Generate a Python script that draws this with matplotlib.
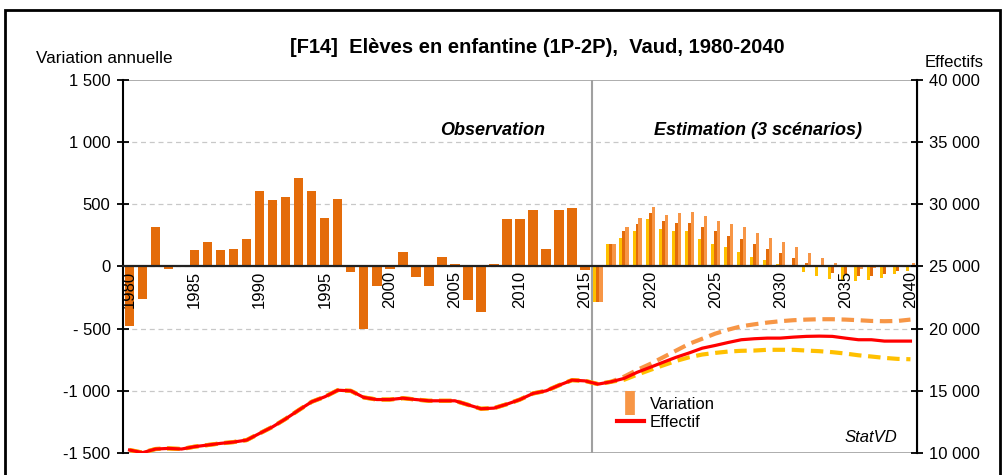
"""[F14] Elèves en enfantine (1P-2P), Vaud, 1980-2040 -- bars + lines on twin axes."""

import matplotlib
matplotlib.use("Agg")
import matplotlib.pyplot as plt
from matplotlib.lines import Line2D
from matplotlib.patches import Rectangle
import numpy as np

plt.rcParams["font.family"] = ["Liberation Sans", "DejaVu Sans"]

years = list(range(1980, 2041))

# annual variation, observed 1980-2015
var_obs = [-480, -260, 321, -21, -5, 132, 195, 132, 139, 218,
           605, 534, 558, 708, 605, 392, 542, -47, -505, -158,
           -21, 116, -87, -158, 76, 21, -268, -363, 18, 384,
           384, 455, 139, 455, 471, -32]

# annual variation, estimation 2016-2040 (low / medium / high scenario)
var_low = [-284, 179, 226, 289, 384, 305, 289, 282, 218, 179,
           155, 116, 76, 53, 21, 0, -47, -74, -97, -105,
           -113, -110, -89, -58, -34]
var_mid = [-284, 179, 282, 345, 432, 368, 353, 353, 321, 282,
           242, 218, 179, 139, 108, 68, 29, 0, -50, -58,
           -74, -74, -58, -34, -8]
var_high = [-284, 179, 318, 392, 482, 416, 432, 442, 408, 368,
            342, 316, 266, 226, 195, 155, 108, 68, 29, 2,
            -18, -10, 2, 16, 29]

# pupils count, observed 1980-2015
eff_obs = [10240, 10030, 10320, 10370, 10320, 10510, 10640, 10775, 10880, 11040,
           11580, 12110, 12750, 13450, 14120, 14520, 15050, 15000, 14470, 14300,
           14300, 14410, 14300, 14200, 14200, 14200, 13880, 13560, 13610, 13930,
           14300, 14790, 15000, 15450, 15860, 15800]

# pupils count, estimation 2016-2040
eff_mid = [15540, 15730, 16000, 16490, 16890, 17300, 17700, 18050, 18430, 18650,
           18890, 19110, 19190, 19240, 19240, 19320, 19380, 19400, 19380, 19240,
           19110, 19110, 19000, 19000, 19000]
eff_high = [15540, 15730, 16140, 16680, 17160, 17700, 18240, 18780, 19190, 19600,
            19920, 20190, 20350, 20490, 20600, 20680, 20730, 20760, 20760, 20730,
            20680, 20620, 20600, 20620, 20730]
eff_low = [15540, 15730, 15890, 16300, 16680, 17050, 17410, 17700, 17920, 18050,
           18160, 18220, 18240, 18300, 18300, 18300, 18240, 18190, 18110, 18000,
           17860, 17760, 17650, 17570, 17540]

left_ticks = [-1500, -1000, -500, 0, 500, 1000, 1500]
left_labels = ["-1 500", "-1 000", "- 500", "0", "500", "1 000", "1 500"]
right_ticks = [10000, 15000, 20000, 25000, 30000, 35000, 40000]
right_labels = ["10 000", "15 000", "20 000", "25 000", "30 000", "35 000", "40 000"]

DARK = "#E46C0A"
LIGHT = "#F79646"
YELLOW = "#FFC000"
RED = "#FF0000"

fig = plt.figure(figsize=(10.05, 4.75), dpi=100)
ax = fig.add_axes([0.1224, 0.0463, 0.7900, 0.7853])
ax2 = ax.twinx()

n_obs = len(var_obs)
x = np.arange(len(years))
x_obs = x[:n_obs]
x_est = x[n_obs:]

# gridlines drawn by hand so that bars sit above them and year labels above bars
for t in left_ticks[1:-1]:
    ax.axhline(t, linestyle=(0, (4, 3)), color="#C8C8C8", linewidth=0.9, zorder=1)

ax.bar(x_obs, var_obs, width=0.72, color=DARK, zorder=2)
w = 0.25
ax.bar(x_est - 0.23, var_low, width=w, color=YELLOW, zorder=2)
ax.bar(x_est, var_mid, width=w, color=DARK, zorder=2)
ax.bar(x_est + 0.23, var_high, width=w, color=LIGHT, zorder=2)
ax.set_axisbelow(False)

ax.set_xlim(-0.5, len(years) - 0.5)
ax.set_ylim(-1500, 1500)
ax.set_yticks(left_ticks)
ax.set_yticklabels(left_labels, fontsize=12)

# x axis sits on the zero line
ax.spines["bottom"].set_position(("data", 0))
ax.spines["bottom"].set_color("#222222")
ax.spines["bottom"].set_linewidth(1.6)
ax.spines["bottom"].set_zorder(4)
tick_pos = [i for i, y in enumerate(years) if y % 5 == 0]
ax.set_xticks(tick_pos)
ax.set_xticklabels([str(years[i]) for i in tick_pos], rotation=90, fontsize=12)
ax.tick_params(axis="x", length=0, pad=3)
ax.tick_params(axis="y", direction="inout", length=8, width=1.3, pad=5)
ax.axhline(-1500, color="#A0A0A0", linewidth=1.2, zorder=1)
ax.axhline(1500, color="#A0A0A0", linewidth=1.2, zorder=1)
ax.axvline(n_obs - 0.5, color="#A0A0A0", linewidth=1.5, zorder=1)

ax.spines["top"].set_visible(False)
ax2.spines["top"].set_visible(False)
ax2.spines["bottom"].set_visible(False)
ax.spines["left"].set_linewidth(1.5)
ax2.spines["right"].set_linewidth(1.5)
ax2.spines["left"].set_visible(False)

# lines on the right axis
ax2.plot(x, eff_obs + eff_high, color=LIGHT, linewidth=3, linestyle=(0, (3, 1.6)), zorder=3)
ax2.plot(x, eff_obs + eff_low, color=YELLOW, linewidth=3, linestyle=(0, (3, 1.6)), zorder=3)
ax2.plot(x, eff_obs + eff_mid, color=RED, linewidth=2.3, zorder=4)
ax2.set_ylim(10000, 40000)
ax2.set_yticks(right_ticks)
ax2.set_yticklabels(right_labels, fontsize=12)
ax2.tick_params(axis="y", direction="inout", length=8, width=1.3, pad=5)

fig.text(0.535, 0.90, "[F14]  Elèves en enfantine (1P-2P),  Vaud, 1980-2040",
         ha="center", va="center", fontsize=14.5, fontweight="bold")
fig.text(0.036, 0.877, "Variation annuelle", ha="left", va="center", fontsize=12.3)
fig.text(0.920, 0.868, "Effectifs", ha="left", va="center", fontsize=12)
ax.text(27.9, 1095, "Observation", ha="center", va="center",
        fontsize=13, fontweight="bold", fontstyle="italic")
ax.text(48.3, 1095, "Estimation (3 scénarios)", ha="center", va="center",
        fontsize=13, fontweight="bold", fontstyle="italic")
ax.text(59.0, -1375, "StatVD", ha="right", va="center", fontsize=12, fontstyle="italic")

handles = [Line2D([], [], color=LIGHT, marker="|", linestyle="None", markersize=17, mew=7),
           Line2D([], [], color=RED, linewidth=3)]
ax2.legend(handles, ["Variation", "Effectif"], loc="lower left",
           bbox_to_anchor=(0.614, 0.044), frameon=False, fontsize=12,
           handlelength=1.6, handletextpad=0.35, labelspacing=0.2, borderaxespad=0)

fig.patches.append(Rectangle((0.005, -0.02), 0.99, 0.999, transform=fig.transFigure,
                             fill=False, edgecolor="black", linewidth=2))

plt.savefig("out.png", dpi=100)
plt.close()
